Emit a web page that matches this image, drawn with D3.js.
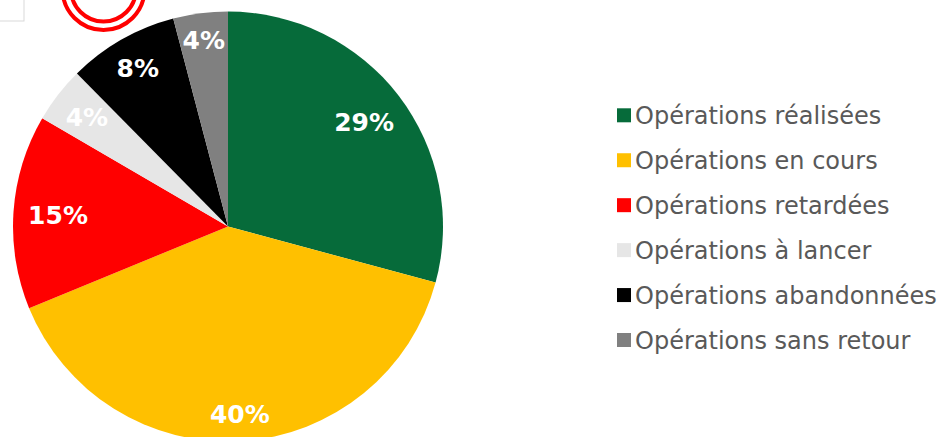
<!doctype html>
<html>
<head>
<meta charset="utf-8">
<style>
    body { margin: 0; background: #fff; }
    svg { display: block; }
    .lbl { font-family: "DejaVu Sans", Verdana, sans-serif; font-weight: bold; fill: #fff; }
    .leg { font-family: "DejaVu Sans", Verdana, sans-serif; fill: #595959; }
</style>
</head>
<body>
<div id="chart"></div>
<script src="https://d3js.org/d3.v7.min.js"></script>
<script>

    // data (slice sizes estimated from the angles, labels show rounded %)
    var categories = ["Opérations réalisées", "Opérations en cours", "Opérations retardées",
                      "Opérations à lancer", "Opérations abandonnées", "Opérations sans retour"];
    var values = [29.2, 39.6, 14.6, 4.2, 8.3, 4.1];
    var colours = ["#066b3a", "#ffc000", "#ff0000", "#e6e6e6", "#000000", "#808080"];

    var width = 948, height = 437;
    var cx = 228, cy = 226.5, radius = 215;

    var svg = d3.select("#chart").append("svg")
        .attr("width", width)
        .attr("height", height);

    // little box and red rings poking in at the top left
    svg.append("rect")
        .attr("x", -2).attr("y", -2)
        .attr("width", 26).attr("height", 23)
        .attr("fill", "#fff")
        .attr("stroke", "#d9d9d9")
        .attr("stroke-width", 1);

    svg.append("circle")
        .attr("cx", 103.5).attr("cy", -11).attr("r", 41)
        .attr("fill", "none").attr("stroke", "#ff0000").attr("stroke-width", 4);
    svg.append("circle")
        .attr("cx", 103.5).attr("cy", -11).attr("r", 32.5)
        .attr("fill", "none").attr("stroke", "#ff0000").attr("stroke-width", 4);

    var colour = d3.scaleOrdinal().domain(categories).range(colours);

    var data = categories.map(function(c, i) { return { name: c, value: values[i] }; });

    var pie = d3.pie()
        .sort(null)
        .value(function(d) { return d.value; });

    var arc = d3.arc().innerRadius(0).outerRadius(radius);

    var g = svg.append("g")
        .attr("transform", "translate(" + cx + "," + cy + ")");

    var arcs = pie(data);

    g.selectAll("path")
        .data(arcs)
        .enter().append("path")
        .attr("d", arc)
        .attr("fill", function(d) { return colour(d.data.name); });

    // labels sit at the "inside end" of each slice
    var fs = 25, pad = 14;
    var lbls = g.selectAll(".lbl")
        .data(arcs)
        .enter().append("text")
        .attr("class", "lbl")
        .attr("font-size", fs + "px")
        .attr("text-anchor", "middle")
        .attr("dy", "0.36em")
        .text(function(d) { return Math.round(d.data.value) + "%"; });

    lbls.each(function(d) {
        var bb = this.getBBox();
        var w = bb.width / 2, h = fs * 0.729 / 2;
        var a = (d.startAngle + d.endAngle) / 2;
        var ux = Math.sin(a), uy = -Math.cos(a);
        var sx = ux < 0 ? -w : w, sy = uy < 0 ? -h : h;
        var us = ux * sx + uy * sy;
        var R = radius - pad;
        var r = -us + Math.sqrt(us * us - (sx * sx + sy * sy) + R * R);
        d3.select(this).attr("x", r * ux).attr("y", r * uy);
    });

    // legend
    var ly = d3.scalePoint().domain(categories).range([115.3, 340]);

    var leg = svg.append("g");
    leg.selectAll("rect")
        .data(categories)
        .enter().append("rect")
        .attr("x", 617)
        .attr("y", function(d) { return ly(d) - 7; })
        .attr("width", 14)
        .attr("height", 14)
        .attr("fill", function(d) { return colour(d); });

    leg.selectAll("text")
        .data(categories)
        .enter().append("text")
        .attr("class", "leg")
        .attr("x", 635)
        .attr("y", function(d) { return ly(d); })
        .attr("dy", "0.36em")
        .attr("font-size", "24px")
        .text(function(d) { return d; });

</script>
</body>
</html>
